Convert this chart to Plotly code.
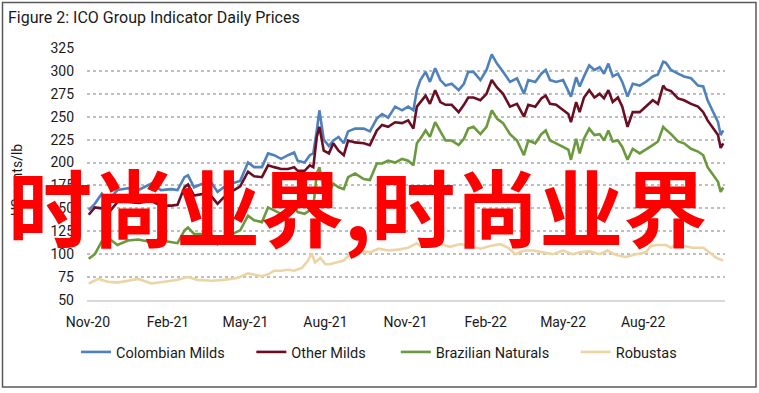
import plotly.graph_objects as go

# ---------------- data ----------------
arabica_dates = [
    "2020-11-02", "2020-11-09", "2020-11-17", "2020-11-24", "2020-12-05", "2020-12-17", "2020-12-29",
    "2021-01-13", "2021-01-24", "2021-02-05", "2021-02-12", "2021-02-20", "2021-02-24", "2021-03-03",
    "2021-03-15", "2021-03-23", "2021-03-30", "2021-04-06", "2021-04-18", "2021-04-25", "2021-05-04", "2021-05-11",
    "2021-05-20", "2021-05-27", "2021-06-03", "2021-06-11", "2021-06-19", "2021-06-26", "2021-06-30",
    "2021-07-08", "2021-07-14", "2021-07-18", "2021-07-22", "2021-07-25", "2021-07-30", "2021-08-05",
    "2021-08-10", "2021-08-16", "2021-08-22", "2021-08-27", "2021-09-04", "2021-09-14", "2021-09-21",
    "2021-09-29", "2021-10-05", "2021-10-12", "2021-10-20", "2021-10-28", "2021-11-04", "2021-11-10", "2021-11-14",
    "2021-11-18", "2021-11-24", "2021-11-29", "2021-12-05", "2021-12-11", "2021-12-17", "2021-12-24",
    "2022-01-01", "2022-01-07", "2022-01-12", "2022-01-18", "2022-01-26", "2022-02-02", "2022-02-08",
    "2022-02-14", "2022-02-21", "2022-03-01", "2022-03-09", "2022-03-17", "2022-03-22", "2022-03-30",
    "2022-04-06", "2022-04-11", "2022-04-16", "2022-04-23", "2022-05-01", "2022-05-07", "2022-05-10", "2022-05-16",
    "2022-05-20", "2022-05-25", "2022-05-31", "2022-06-06", "2022-06-12", "2022-06-17", "2022-06-22",
    "2022-06-27", "2022-07-03", "2022-07-08", "2022-07-14", "2022-07-20", "2022-07-28", "2022-08-04",
    "2022-08-12", "2022-08-18", "2022-08-24", "2022-08-27", "2022-09-02", "2022-09-10", "2022-09-17",
    "2022-09-25", "2022-10-03", "2022-10-09", "2022-10-14", "2022-10-20", "2022-10-26", "2022-10-29", "2022-11-01",
]

colombian_milds = [
    148, 155, 166, 158, 170, 172, 170,
    177, 170, 171, 170, 184, 186, 173,
    178, 178, 168, 173, 178, 180, 200, 195,
    195, 210, 208, 204, 208, 211, 202,
    200, 208, 210, 235, 257, 225, 218,
    224, 228, 221, 234, 237, 237, 234,
    248, 253, 249, 261, 257, 261, 257, 279,
    290, 299, 288, 303, 290, 284, 286,
    279, 286, 299, 299, 290, 301, 318,
    308, 299, 288, 292, 275, 290, 288,
    297, 301, 290, 288, 290, 279, 272, 293,
    283, 294, 306, 301, 304, 297, 308,
    294, 297, 288, 272, 286, 284, 288,
    294, 296, 310, 309, 301, 297, 294,
    292, 284, 283, 268, 256, 244, 230, 235,
]

other_milds = [
    143, 151, 150, 144, 157, 157, 156,
    158, 153, 153, 154, 173, 176, 164,
    166, 163, 155, 162, 170, 174, 190, 185,
    184, 197, 195, 193, 193, 195, 191,
    191, 197, 195, 228, 239, 213, 210,
    221, 213, 208, 224, 222, 221, 219,
    235, 241, 239, 244, 243, 246, 237, 261,
    266, 273, 264, 279, 266, 263, 263,
    255, 263, 271, 271, 268, 275, 290,
    282, 275, 261, 264, 250, 263, 261,
    270, 273, 264, 263, 257, 253, 244, 266,
    255, 271, 279, 271, 275, 270, 279,
    266, 271, 261, 239, 255, 255, 261,
    268, 264, 284, 280, 278, 270, 268,
    264, 261, 255, 246, 238, 230, 216, 221,
]

brazilian_naturals = [
    95, 100, 114, 118, 110, 115, 116,
    113, 115, 113, 112, 126, 129, 122,
    122, 121, 111, 116, 123, 126, 142, 137,
    135, 151, 148, 144, 148, 153, 146,
    144, 148, 151, 188, 195, 170, 168,
    177, 173, 171, 184, 188, 182, 181,
    199, 199, 202, 200, 204, 202, 197, 221,
    226, 235, 228, 244, 234, 224, 224,
    219, 226, 237, 239, 231, 239, 257,
    248, 243, 231, 224, 208, 224, 221,
    231, 235, 224, 221, 217, 214, 203, 226,
    210, 226, 237, 230, 231, 224, 235,
    223, 224, 217, 203, 215, 210, 214,
    219, 223, 239, 236, 231, 223, 221,
    215, 212, 208, 195, 187, 179, 168, 173,
]

robusta_dates = [
    "2020-11-02", "2020-11-13", "2020-11-24", "2020-12-05", "2020-12-29", "2021-01-13", "2021-01-28",
    "2021-02-12", "2021-02-24", "2021-03-07", "2021-03-23", "2021-04-06", "2021-04-22", "2021-05-04",
    "2021-05-20", "2021-05-27", "2021-06-03", "2021-06-11", "2021-06-19", "2021-06-26", "2021-07-05",
    "2021-07-12", "2021-07-16", "2021-07-20", "2021-07-26", "2021-08-01", "2021-08-06", "2021-08-14",
    "2021-08-22", "2021-08-27", "2021-09-04", "2021-09-14", "2021-09-21", "2021-10-01", "2021-10-12",
    "2021-10-24", "2021-11-04", "2021-11-14",
    "2021-11-18", "2021-11-29", "2021-12-11", "2021-12-22", "2022-01-03", "2022-01-14", "2022-01-26",
    "2022-02-06", "2022-02-18", "2022-02-27", "2022-03-07", "2022-03-17", "2022-03-28", "2022-04-08",
    "2022-04-19", "2022-05-01", "2022-05-12",
    "2022-05-20", "2022-05-31", "2022-06-12", "2022-06-21", "2022-07-01", "2022-07-12", "2022-07-24",
    "2022-08-04", "2022-08-10", "2022-08-16", "2022-08-27", "2022-09-02", "2022-09-10", "2022-09-17",
    "2022-09-27", "2022-10-09", "2022-10-16", "2022-10-24", "2022-11-01",
]

robustas = [
    68, 73, 70, 69, 73, 68, 70,
    72, 75, 72, 71, 72, 74, 79,
    76, 78, 82, 82, 83, 82, 85,
    93, 101, 91, 96, 89, 89, 91,
    93, 98, 100, 103, 102, 106, 104,
    105, 107, 112,
    109, 111, 111, 108, 111, 109, 106,
    109, 111, 107, 100, 104, 104, 102,
    100, 104, 100,
    102, 103, 100, 104, 99, 97, 100,
    102, 109, 110, 110, 107, 112, 109,
    107, 107, 102, 96, 93,
]

x_tick_values = ["2020-11-01", "2021-02-01", "2021-05-01", "2021-08-01",
                 "2021-11-01", "2022-02-01", "2022-05-01", "2022-08-01"]
x_tick_labels = ["Nov-20", "Feb-21", "May-21", "Aug-21",
                 "Nov-21", "Feb-22", "May-22", "Aug-22"]

series_names = ["Colombian Milds", "Other Milds", "Brazilian Naturals", "Robustas"]

title_text = "Figure 2: ICO Group Indicator Daily Prices"
y_title_text = "US cents/lb"
watermark_text = "时尚业界,时尚业界"

# ---------------- figure ----------------
FONT = "Roboto, 'Open Sans', sans-serif"
TXT = "#1a1a1a"
LW = 2.6
NBSP = "\u00a0"
legend_pad = [6, 7, 6, 0]  # extra spacing after each legend entry

series = [
    (arabica_dates, colombian_milds, "#4F81BD"),
    (arabica_dates, other_milds, "#6B0E23"),
    (arabica_dates, brazilian_naturals, "#6A9A3D"),
    (robusta_dates, robustas, "#EBD5A4"),
]

fig = go.Figure()
for (xs, ys, col), name, pad in zip(series, series_names, legend_pad):
    fig.add_trace(go.Scatter(x=xs, y=ys, name=name + NBSP * pad, mode="lines",
                             line=dict(color=col, width=LW), hoverinfo="skip"))

W, H = 759, 393
L, R, T, B = 87, 34, 48, 93
pw, ph = W - L - R, H - T - B


def px_x(x):
    return (x - L) / pw


def px_y(y):
    return (H - B - y) / ph


fig.update_layout(
    width=W, height=H,
    margin=dict(l=L, r=R, t=T, b=B),
    paper_bgcolor="white", plot_bgcolor="white",
    font=dict(family=FONT, size=14, color=TXT),
    showlegend=True,
    legend=dict(orientation="h", x=px_x(76), xanchor="left",
                y=px_y(352), yanchor="middle",
                font=dict(family=FONT, size=14.5, color=TXT),
                itemwidth=30, bgcolor="rgba(0,0,0,0)"),
    title=dict(text=title_text, xref="container", yref="container",
               x=8 / W, xanchor="left", y=1 - 17 / H, yanchor="middle",
               font=dict(family=FONT, size=16, color=TXT)),
)

fig.update_xaxes(
    type="date",
    range=["2020-10-31", "2022-11-03"],
    tickvals=x_tick_values, ticktext=x_tick_labels,
    showgrid=False, zeroline=False,
    showline=True, linecolor="#D9D9D9", linewidth=1.5,
    ticks="", ticklabelstandoff=8,
    tickfont=dict(family=FONT, size=14, color=TXT),
)

fig.update_yaxes(
    range=[50, 325], dtick=25, tick0=50,
    showgrid=True, gridcolor="#BFBFBF", griddash="dot", gridwidth=1.5,
    zeroline=False, showline=False, ticks="",
    ticklabelstandoff=12,
    tickfont=dict(family=FONT, size=14, color=TXT),
)

# y-axis title
fig.add_annotation(text=y_title_text, xref="paper", yref="paper",
                   x=px_x(17), y=px_y(180), textangle=-90,
                   showarrow=False, xanchor="center", yanchor="middle",
                   font=dict(family=FONT, size=14, color=TXT))

# red overlay text
fig.add_annotation(text=watermark_text, xref="paper", yref="paper",
                   x=px_x(357), y=px_y(204), showarrow=False,
                   xanchor="center", yanchor="middle",
                   font=dict(family="'Noto Sans CJK SC', sans-serif", size=84,
                             color="#FF0000", weight="bold"))

# outer frame
fig.add_shape(type="rect", xref="paper", yref="paper",
              x0=px_x(2.5), x1=px_x(756), y0=px_y(387), y1=px_y(2.5),
              line=dict(color="#595959", width=1.5), fillcolor="rgba(0,0,0,0)",
              layer="below")

fig.write_html("out.html", config={"displayModeBar": False},
               post_script="document.body.style.margin='0';")
